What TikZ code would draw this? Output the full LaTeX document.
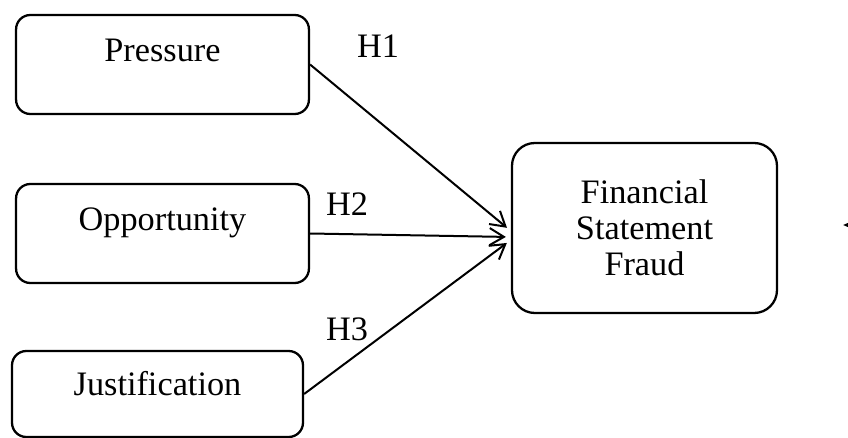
\documentclass[tikz,border=0pt]{standalone}
\usepackage{fontspec}
\setmainfont{Liberation Serif}
\usetikzlibrary{arrows.meta}

\begin{document}
\begin{tikzpicture}[x=0.35pt,y=-0.35pt,
    factor/.style={draw,line width=0.8pt,rounded corners=5pt,inner sep=0pt,
      minimum width=102.5pt,minimum height=34.65pt,
      text height=8pt,text depth=10pt,font=\fontsize{12}{12.6}\selectfont},
    hyp/.style={inner sep=0pt,font=\fontsize{12}{12.6}\selectfont},
    link/.style={line width=0.7pt,shorten >=1.75pt,-{Straight Barb[length=5pt,width=6pt]}}]
  \useasboundingbox (0,0) rectangle (848,438);
  \begin{scope}
    \node (pres)[factor] at (162.5,64.5) {Pressure};
    \node (opp)[factor] at (162.5,233.5) {Opportunity};
    \node (just)[factor,minimum width=101.85pt,minimum height=30.1pt,text depth=7.3pt] at (157.5,394) {Justification};
    \node (fsf)[draw,line width=0.8pt,rounded corners=8pt,inner sep=0pt,align=center,
      minimum width=92.75pt,minimum height=59.5pt,font=\fontsize{12}{12.6}\selectfont]
      at (644.5,228) {Financial\\Statement\\Fraud};
  \end{scope}
  \begin{scope}[every node/.style={hyp}]
    \node (h1) at (378,46) {H1};
    \node (h2) at (347,204) {H2};
    \node (h3) at (347,329) {H3};
  \end{scope}
  \begin{scope}
    \draw[link] (pres.east) -- ([yshift=-1.05pt]fsf.west);
    \draw[link] (opp.east) -- ([yshift=-3.15pt]fsf.west);
    \draw[link] (just.east) -- ([yshift=-4.2pt]fsf.west);
  \end{scope}
  % arrow coming in from the right edge
  \coordinate (offR) at (880,225);
  \coordinate (tipR) at (843,225);
  \draw[line width=0.7pt,-{Triangle[length=3.5pt,width=2.8pt]}] (offR) -- (tipR);
\end{tikzpicture}
\end{document}
